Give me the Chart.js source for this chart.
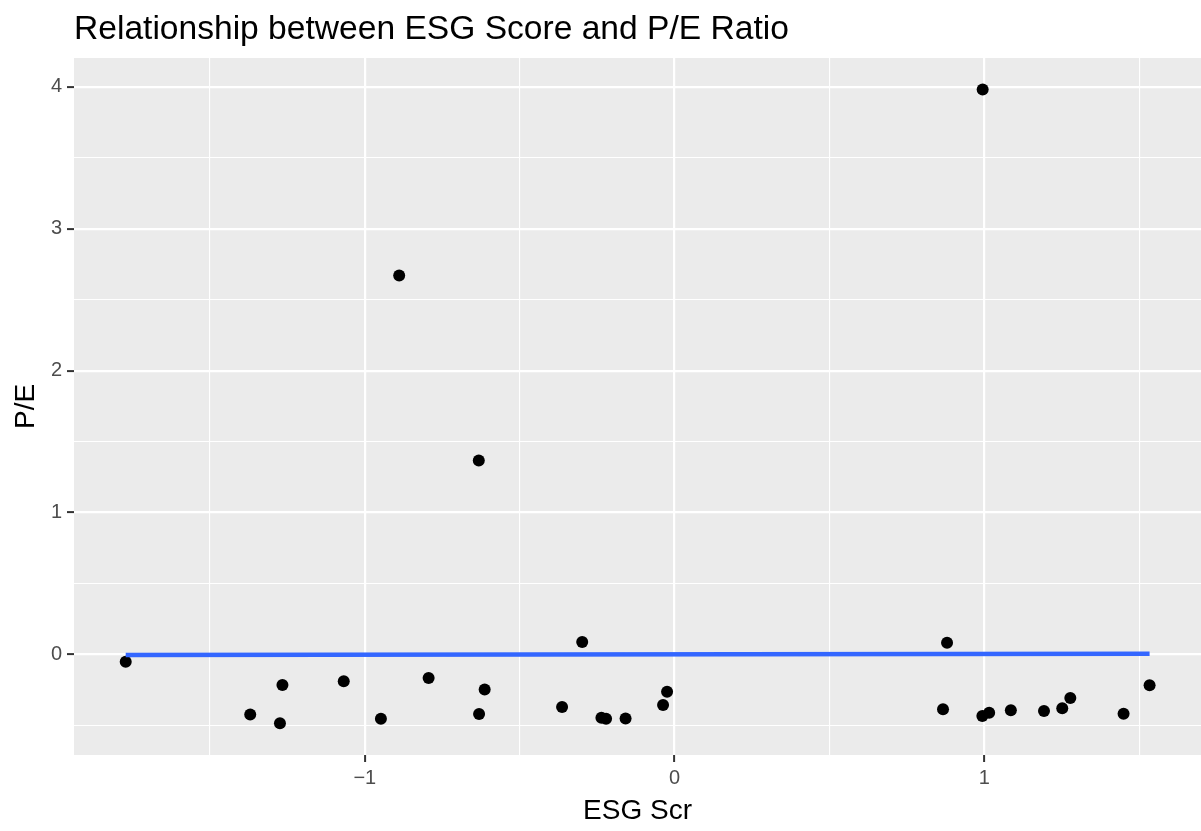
<!DOCTYPE html>
<html>
<head>
<meta charset="utf-8">
<script src="https://cdn.jsdelivr.net/npm/chart.js@4.4.1/dist/chart.umd.min.js"></script>
<style>
  html, body { margin: 0; padding: 0; background: #fff; overflow: hidden; }
  canvas { display: block; }
</style>
</head>
<body>
<canvas id="chart" width="1201" height="831"></canvas>
<script>
// standardised ESG score vs P/E ratio
const esgScore = [-1.772, -1.266, -1.068, -0.794, -1.370, -1.274, -0.948,
  -0.298, -0.613, -0.631, -0.363, -0.236, -0.221, -0.158, -0.024, -0.037,
  0.880, 0.867, 0.994, 1.016, 1.086, 1.193, 1.252, 1.278, 1.450, 1.534,
  -0.889, -0.632, 0.995];
const peRatio = [-0.051, -0.216, -0.190, -0.167, -0.423, -0.486, -0.453,
  0.087, -0.247, -0.420, -0.371, -0.446, -0.453, -0.451, -0.263, -0.357,
  0.082, -0.387, -0.434, -0.411, -0.394, -0.399, -0.380, -0.308, -0.418, -0.218,
  2.671, 1.366, 3.981];

// lm fit line ends
const fitX = [-1.772, 1.534];
const fitY = [-0.005, 0.005];

const xMajor = [-1, 0, 1];
const xMinor = [-1.5, -0.5, 0.5, 1.5];
const yMajor = [0, 1, 2, 3, 4];
const yMinor = [-0.5, 0.5, 1.5, 2.5, 3.5];

const FONT = '"Liberation Sans", Arial, Helvetica, sans-serif';
const minus = v => (v < 0 ? '\u2212' + Math.abs(v) : String(v));
const isMajor = (list, v) => list.some(m => Math.abs(m - v) < 1e-9);

const panelBg = {
  id: 'panelBg',
  beforeDraw(chart) {
    const { ctx, chartArea: a } = chart;
    ctx.save();
    ctx.fillStyle = '#EBEBEB';
    ctx.fillRect(a.left, a.top, a.right - a.left, a.bottom - a.top);
    ctx.restore();
  }
};

function gridOpts(major) {
  return {
    color: '#FFFFFF',
    lineWidth: c => (isMajor(major, c.tick.value) ? 2.2 : 1.1),
    tickColor: c => (isMajor(major, c.tick.value) ? '#333333' : 'rgba(0,0,0,0)'),
    tickWidth: 2,
    tickLength: 7,
    drawTicks: true,
    z: 0
  };
}

new Chart(document.getElementById('chart'), {
  type: 'scatter',
  data: {
    datasets: [
      {
        type: 'line',
        data: fitX.map((x, i) => ({ x, y: fitY[i] })),
        borderColor: '#3366FF',
        borderWidth: 4.5,
        pointRadius: 0,
        fill: false,
        order: 0
      },
      {
        data: esgScore.map((x, i) => ({ x, y: peRatio[i] })),
        backgroundColor: '#000000',
        borderWidth: 0,
        pointRadius: 6,
        order: 1
      }
    ]
  },
  options: {
    responsive: false,
    animation: false,
    layout: { padding: 0, autoPadding: false },
    plugins: {
      legend: { display: false },
      tooltip: { enabled: false },
      title: {
        display: true,
        text: 'Relationship between ESG Score and P/E Ratio',
        align: 'start',
        fullSize: false,
        color: '#000000',
        font: { family: FONT, size: 33.6, weight: 'normal', lineHeight: 1.1 },
        padding: { top: 11, bottom: 10 }
      }
    },
    scales: {
      x: {
        type: 'linear',
        min: -1.939,
        max: 1.70,
        afterBuildTicks: s => { s.ticks = [...xMinor, ...xMajor].sort((a, b) => a - b).map(v => ({ value: v })); },
        afterFit: s => { s.height = 76; s.paddingLeft = 0; s.paddingRight = 0; },
        grid: gridOpts(xMajor),
        border: { display: false },
        ticks: {
          color: '#4D4D4D',
          font: { family: FONT, size: 20 },
          padding: 4,
          maxRotation: 0,
          autoSkip: false,
          callback: v => (isMajor(xMajor, v) ? minus(v) : '')
        },
        title: {
          display: true,
          text: 'ESG Scr',
          color: '#000000',
          font: { family: FONT, size: 28, lineHeight: 1.2 },
          padding: { top: 0, bottom: 3 }
        }
      },
      y: {
        type: 'linear',
        min: -0.709,
        max: 4.204,
        afterBuildTicks: s => { s.ticks = [...yMinor, ...yMajor].sort((a, b) => a - b).map(v => ({ value: v })); },
        afterFit: s => { s.width = 74; s.paddingTop = 0; s.paddingBottom = 0; },
        grid: gridOpts(yMajor),
        border: { display: false },
        ticks: {
          color: '#4D4D4D',
          font: { family: FONT, size: 20 },
          padding: 5,
          autoSkip: false,
          callback: v => (isMajor(yMajor, v) ? minus(v) : '')
        },
        title: {
          display: true,
          text: 'P/E',
          color: '#000000',
          font: { family: FONT, size: 28, lineHeight: 1.2 },
          padding: { top: 9, bottom: 9 }
        }
      }
    }
  },
  plugins: [panelBg]
});
</script>
</body>
</html>
